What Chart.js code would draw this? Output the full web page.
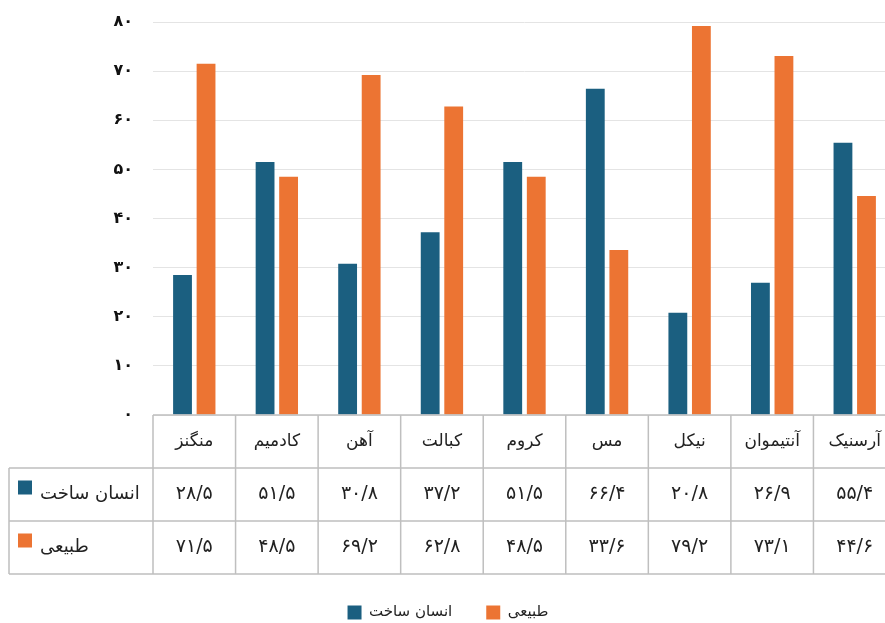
<!DOCTYPE html>
<html>
<head>
<meta charset="utf-8">
<script src="https://cdn.jsdelivr.net/npm/chart.js@4"></script>
<style>
  body { margin: 0; background: #fff; overflow: hidden; }
  #wrap { width: 896px; height: 623px; }
</style>
</head>
<body>
<div id="wrap"><canvas id="canvas"></canvas></div>
<script>
// data
var categories = ['منگنز', 'کادمیم', 'آهن', 'کبالت', 'کروم', 'مس', 'نیکل', 'آنتیموان', 'آرسنیک'];
var seriesNames = ['انسان ساخت', 'طبیعی'];
var manMade = [28.5, 51.5, 30.8, 37.2, 51.5, 66.4, 20.8, 26.9, 55.4];
var natural = [71.5, 48.5, 69.2, 62.8, 48.5, 33.6, 79.2, 73.1, 44.6];
var colors = ['#1b5f80', '#ec7433'];

var FONT = "'DejaVu Sans', sans-serif";
var faDigits = '۰۱۲۳۴۵۶۷۸۹';
function fa(n) {
    return String(n).replace(/\d/g, function (d) { return faDigits[d]; }).replace('.', '/');
}

// draws the data table under the bars
var dataTable = {
    id: 'dataTable',
    afterDraw: function (chart) {
        var ctx = chart.ctx;
        var x = chart.scales.x;
        var area = chart.chartArea;
        var rowH = 53;
        var top = area.bottom;
        var leftX = 9;
        var step = x.getPixelForValue(1) - x.getPixelForValue(0);
        var endX = x.getPixelForValue(categories.length - 1) + step / 2;
        var rows = [manMade, natural];

        ctx.save();
        ctx.strokeStyle = '#bfbfbf';
        ctx.lineWidth = 1.5;
        ctx.beginPath();
        ctx.moveTo(area.left, top); ctx.lineTo(endX, top);
        for (var r = 1; r <= 3; r++) {
            ctx.moveTo(leftX, top + r * rowH); ctx.lineTo(endX, top + r * rowH);
        }
        ctx.moveTo(leftX, top + rowH); ctx.lineTo(leftX, top + 3 * rowH);
        for (var i = 0; i <= categories.length; i++) {
            var bx = x.getPixelForValue(0) - step / 2 + i * step;
            ctx.moveTo(bx, top); ctx.lineTo(bx, top + 3 * rowH);
        }
        ctx.stroke();

        ctx.textBaseline = 'middle';
        ctx.textAlign = 'center';
        ctx.fillStyle = '#222';
        categories.forEach(function (c, i) {
            var cx = x.getPixelForValue(i);
            ctx.font = '17px ' + FONT;
            ctx.fillText(c, cx, top + rowH / 2);
            ctx.font = '19px ' + FONT;
            rows.forEach(function (vals, r) {
                ctx.fillText(fa(vals[i]), cx, top + rowH * (r + 1.5));
            });
        });

        ctx.textAlign = 'left';
        seriesNames.forEach(function (name, r) {
            var cy = top + rowH * (r + 1.5);
            ctx.fillStyle = colors[r];
            ctx.fillRect(18, cy - 14, 14, 14);
            ctx.fillStyle = '#222';
            ctx.font = '18px ' + FONT;
            ctx.fillText(name, 40, cy);
        });
        ctx.restore();
    }
};

const ctx = document.getElementById('canvas').getContext('2d');
const myChart = new Chart(ctx, {
    type: 'bar',
    data: {
        labels: categories,
        datasets: [{
            label: seriesNames[0],
            data: manMade,
            backgroundColor: colors[0]
        }, {
            label: seriesNames[1],
            data: natural,
            backgroundColor: colors[1]
        }]
    },
    options: {
        responsive: true,
        maintainAspectRatio: false,
        animation: false,
        categoryPercentage: 0.57,
        barPercentage: 0.8,
        layout: { padding: { top: 22, left: 0, right: 0, bottom: -7 } },
        scales: {
            x: {
                ticks: { display: false },
                grid: { display: false },
                border: { display: false },
                afterFit: function (scale) { scale.height = 156; }
            },
            y: {
                min: 0,
                max: 80,
                ticks: {
                    stepSize: 10,
                    padding: 20,
                    color: '#111',
                    font: { family: FONT, size: 16, weight: 'bold' },
                    callback: function (v) { return fa(v); }
                },
                grid: { color: '#e4e4e4', drawTicks: false },
                border: { display: false },
                afterFit: function (scale) {
                    scale.width = 153;
                    scale.paddingTop = 0;
                    scale.paddingBottom = 0;
                }
            }
        },
        plugins: {
            legend: {
                position: 'bottom',
                labels: {
                    boxWidth: 14,
                    boxHeight: 14,
                    padding: 34,
                    color: '#222',
                    font: { family: FONT, size: 15 }
                }
            },
            tooltip: { enabled: false }
        }
    },
    plugins: [dataTable]
});
</script>
</body>
</html>
